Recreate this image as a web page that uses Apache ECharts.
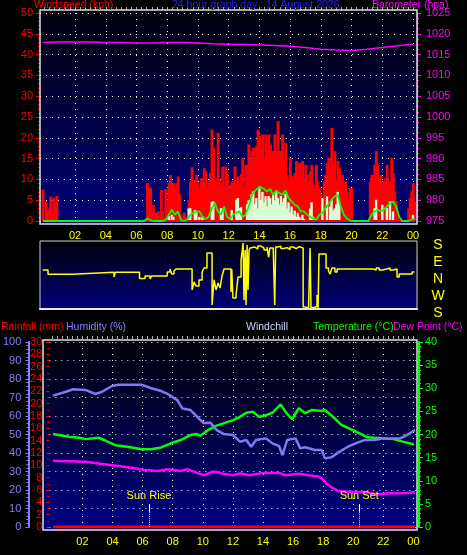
<!DOCTYPE html>
<html><head><meta charset="utf-8">
<script src="https://cdn.jsdelivr.net/npm/echarts@6/dist/echarts.min.js"></script>
<style>html,body{margin:0;padding:0;background:#000;}#c{width:467px;height:555px;}</style>
</head><body><div id="c"></div><script>
// ---------- DATA ----------
var hourTicks = [2,4,6,8,10,12,14,16,18,20,22,24];
var tickLabels = ['02','04','06','08','10','12','14','16','18','20','22','00'];

// wind samples every 6 minutes starting at -0.1 h
var windStart = -0.1, windStep = 0.1;
var gust = [
7.5,0.5,4.7,2.3,3.0,5.9,1.9,5.5,4.3,6.0,
0,0,0,0,0,0,0,0,0,0, 0,0,0,0,0,0,0,0,0,0, 0,0,0,0,0,0,0,0,0,0,
0,0,0,0,0,0,0,0,0,0, 0,0,0,0,0,0,0,0,0,0, 0,0,0,0,0,0,0,0,
9.1,8.0,8.0,3.0,3.9,1.9,1.9,2.3,0.5,7.5,2.3,1.0,
7.7,5.0,9.1,11.0,9.1,9.1,7.9,9.1,10.7,6.5,
1.5,0.8,2.0,1.0,0.5,5.0,9.5,12.9,9.1,9.9,
11.1,9.1,7.7,10.3,9.1,12.7,12.0,8.5,9.5,11.5,
22.0,17.6,8.5,10.3,21.2,9.9,8.3,13.1,8.5,13.1,
11.3,5.5,8.7,9.5,9.5,13.1,9.1,10.7,9.1,11.3,
15.2,7.9,13.5,13.5,18.4,14.4,16.8,17.6,15.0,18.0,
22.0,20.4,17.2,20.8,15.2,20.8,16.8,20.8,18.4,16.8,
16.8,20.8,16.8,24.0,16.8,16.8,20.8,14.4,18.8,11.1,
9.9,15.2,10.7,10.7,11.5,14.4,9.9,14.0,11.1,14.4,
9.5,13.5,11.1,9.5,11.9,13.5,8.7,8.7,13.5,9.5,
7.9,6.3,3.9,9.5,11.1,14.0,15.2,15.2,22.4,13.5,
16.8,9.5,14.4,12.7,9.5,11.1,8.7,9.5,7.1,4.7,
7.9,7.9,0,0,0,0,0,0,0,0,
0,0,0,9.5,11.1,11.1,13.5,16.8,13.5,9.5,
11.1,8.7,9.5,10.3,13.5,9.5,9.5,15.2,11.5,7.1,
4.7,1.5,0,0,0,0,0,0,3.0,5.5,
7.1,9.1,4.7];
var speed = [
0,0,0,0,0,0,0,0,0,0,
0,0,0,0,0,0,0,0,0,0, 0,0,0,0,0,0,0,0,0,0, 0,0,0,0,0,0,0,0,0,0,
0,0,0,0,0,0,0,0,0,0, 0,0,0,0,0,0,0,0,0,0, 0,0,0,0,0,0,0,0,0,0,
0,0,0,0,0,0,0,0,0,0,
0,0,1.2,0,1.5,1.0,0,0,0,0,
0,0,0,0,0,3.0,3.1,0,0,2.6,
2.3,0,1.0,0,1.0,0,0,0,0,0,
4.6,4.7,0,0,0,0,3.1,2.6,0,0,
0,0,0,2.6,0,0,5.1,5.5,3.1,3.3,
0,0,0,4.0,5.0,5.1,6.5,7.1,4.0,5.5,
3.0,8.3,5.0,7.0,4.5,6.0,3.5,6.0,5.5,4.0,
6.5,5.0,7.0,5.5,4.0,6.0,4.5,5.5,6.5,3.0,
4.5,2.0,3.5,1.5,2.5,1.0,2.0,1.0,0.5,1.5,
0.5,0,0,0,3.0,4.5,1.0,0,0,0,
0,0,5.5,0,0,5.9,0,3.5,5.0,2.5,
3.0,4.0,7.0,4.0,0,0,0,0,0,0,
0,0,0,0,0,0,0,0,0,0,
0,0,0,0,0,0,3.1,5.1,0,0,
0,3.9,0,0,3.1,0,4.7,0,2.3,0,
0,0,0,0,0,0,0,0,0,0,
0,1.5,0];
// average wind every 12 minutes starting at -0.1 h
var avgStart = -0.1, avgStep = 0.2;
var avgSpeed = [
0,0,0,0,0,0,0,0,0,0, 0,0,0,0,0,0,0,0,0,0, 0,0,0,0,0,0,0,0,0,0, 0,0,0,0,
0.6,0.2,0,0,0,0,
0.2,1.5,2.7,1.5,2.3,0.2,0,0.3,1.5,1.9,
2.3,2.3,1.0,0.5,1.0,3.0,4.3,2.3,1.5,3.5,
1.0,0.5,1.5,2.0,2.3,1.0,1.5,3.5,6.0,7.2,
7.9,8.1,7.7,7.1,7.7,6.3,7.3,6.7,6.3,7.3,
5.5,4.7,3.9,3.5,2.3,2.3,1.5,1.0,0.6,0.3,
1.5,1.9,3.1,4.0,5.1,5.9,6.3,3.5,1.5,0.6,
0.1,0,0,0,0,0,0,1.5,2.3,2.7,
2.3,2.7,3.5,4.2,4.7,3.5,1.0,0,0,0,
0.3,0.6];

var baroTimes = [-0.1,1,2,3,4,5,6,7,8,9,10,11,12,13,14,15,16,17,18,19,20,21,22,23,24];
var baro = [1017.9,1018.0,1018.0,1018.0,1017.9,1017.9,1017.8,1017.8,1017.9,1017.9,1017.8,1017.6,
            1017.5,1017.4,1017.3,1017.2,1017.0,1016.7,1016.3,1016.1,1016.0,1016.3,1016.7,1017.1,1017.5];

// wind direction, signed degrees (N=0, E=90, S=±180, W=-90)
var dirTimes = [-0.1,0.24,1.84,4.54,4.62,6.2,6.56,6.88,7.0,8.0,8.18,8.3,8.44,8.57,9.62,9.75,9.88,10.07,10.27,10.4,
  10.59,10.92,11.05,11.18,11.31,11.44,11.57,11.7,12.15,12.2,12.28,12.48,12.61,12.81,12.94,13.0,13.07,13.13,13.2,13.26,
  13.33,13.39,13.5,13.7,13.9,14.1,14.3,14.5,14.6,14.68,14.9,15.0,15.06,15.2,15.4,15.6,15.8,16.0,16.2,16.4,
  16.6,16.85,17.0,17.2,17.3,17.36,17.6,17.75,17.82,17.88,18.34,18.5,18.6,18.73,18.92,19.06,21.4,21.6,21.8,22.0,
  22.3,22.5,22.7,22.96,23.1,23.95,24.1];
var dirValues = [26,4,14,-11,14,-18,-5,-21,-5,16,32,5,21,32,-79,-37,-58,-26,16,37,
  116,-159,-26,-79,-42,-69,-5,32,-90,32,-122,-106,-11,79,169,-132,132,-159,159,-79,
  132,143,148,138,153,143,132,148,95,143,150,-159,148,153,140,145,135,148,140,150,
  143,-170,-175,-165,143,-172,-165,-106,-175,111,37,21,5,37,16,32,26,37,26,32,
  37,26,32,-11,5,16,16];

var humTimes = [0.04,0.91,1.35,2.22,2.87,3.31,3.96,4.39,5.92,6.58,7.23,7.66,8.31,8.64,9.19,9.52,9.84,10.06,10.5,10.93,
  11.37,12.02,12.46,12.89,13.22,13.54,14.2,14.63,15.07,15.29,15.61,16.16,16.48,16.81,17.46,17.9,18.12,18.56,18.99,19.65,
  20.08,20.73,21.39,22.04,23.13,23.57,24.11];
var humidity = [71,73.1,74.4,74,71.9,73.1,76.2,76.9,76.9,75,73.5,71.9,68.6,64.1,63.2,60.5,57.8,56.2,56.4,52.4,
  50.3,49.7,46.1,47,43.4,47,47.9,45.2,43.8,38.9,47,47.9,42.5,43.1,41.6,41.6,37.1,37.7,40.2,43.4,
  44.9,47,47,47.9,47.9,49.7,52.4];

var tempTimes = [0.04,1.12,1.78,2.22,3.08,3.52,4.18,4.83,5.48,5.92,6.58,7.23,7.88,8.54,9.19,9.62,9.84,10.27,10.82,11.37,
  12.02,12.46,12.89,13.33,13.76,14.2,14.63,15.18,15.5,15.94,16.38,16.81,17.25,17.9,18.12,18.77,19.21,19.86,20.52,20.95,
  21.82,22.69,23.35,24.0];
var temperature = [20.1,19.5,19.3,19.0,19.3,18.7,17.7,17.4,17.1,16.8,16.8,17.2,18.1,18.8,19.9,20.1,19.7,20.8,21.8,22.4,
  23.1,23.8,24.7,24.9,23.8,24.2,24.7,26.5,24.9,23.3,25.7,24.6,25.3,25.1,25.3,23.5,22.1,21.1,20.1,19.4,
  19.2,19.0,18.4,17.9];

var dewTimes = [0.04,2.22,3.31,4.39,5.48,6.14,7.01,7.66,8.54,8.97,9.62,10.06,10.71,11.37,12.02,12.46,13.11,13.98,15.07,15.5,
  16.38,17.03,17.69,18.01,18.23,18.56,18.99,19.65,20.73,21.61,22.48,23.35,24.11];
var dewPoint = [14.3,14.1,13.6,13.2,12.7,12.3,12.1,12.5,12.1,12.5,11.7,11.2,12.0,11.5,11.2,11.6,11.2,11.7,11.7,11.2,
  11.5,11.2,10.9,10.2,9.3,8.6,7.8,7.6,7.5,7.1,7.3,7.3,7.5];

var rainTimes = [0.04, 24.11];
var rainfall = [0, 0];

var sunTimes = [6.42, 20.4];
var sunLabels = ['Sun Rise', 'Sun Set'];

// ---------- BUILD ----------
function pairs(times, vals){ return vals.map(function(v,i){ return [times[i], v]; }); }
function stepped(start, step, vals){ return vals.map(function(v,i){ return [+(start + i*step).toFixed(3), v]; }); }
var minorTicks = [];
for (var m = 0; m <= 24*60; m += 20) minorTicks.push(+(m/60).toFixed(4));
function hourFmt(v){ var k = hourTicks.indexOf(Math.round(v)); return k >= 0 ? tickLabels[k] : ''; }

var F = '"Liberation Sans", Arial, sans-serif';
var dotted = {show:true, lineStyle:{color:'#ffffff', width:1, type:[1,5]}};
var TOP = {xmin:-0.28, xmax:24.26}, BOT = {xmin:-0.2, xmax:24.24};

function grad(c0, c1){ return {type:'linear', x:0, y:0, x2:0, y2:1, colorStops:[{offset:0,color:c0},{offset:1,color:c1}]}; }
function txt(x, y, s, c){ return {type:'text', z:60, x:x, y:y, style:{text:s, fill:c, font:'10.5px '+F, textVerticalAlign:'middle'}}; }

var sunLines = [];
sunTimes.forEach(function(t, k){
  sunLines.push([
    {coord:[t, 12.4], lineStyle:{color:'#ffffff', width:1, type:'solid'},
     label:{show:true, position:'start', formatter:sunLabels[k], color:'#ffff00', fontSize:11, fontFamily:F, distance:3}},
    {coord:[t, 8.2]}
  ]);
  sunLines.push([
    {coord:[t, 8.2], lineStyle:{color:'#ffff00', width:1, type:[1,1]}, label:{show:false}},
    {coord:[t, 0]}
  ]);
});

var chart = echarts.init(document.getElementById('c'), null, {renderer:'canvas'});
chart.setOption({
  backgroundColor:'#000000',
  animation:false,
  graphic:[
    {type:'rect', z:-10, shape:{x:40,y:10,width:377,height:214}, style:{fill:grad('#00000a','#00007c')}},
    {type:'rect', z:-10, shape:{x:40,y:241,width:377,height:68}, style:{fill:grad('#00000e','#000078')}},
    {type:'rect', z:-10, shape:{x:43,y:340,width:374,height:190}, style:{fill:grad('#000008','#000082')}},
    {type:'rect', z:50, shape:{x:40,y:10,width:377,height:214}, style:{fill:null, stroke:'#e0e0e0', lineWidth:1.5}},
    {type:'rect', z:50, shape:{x:40,y:241,width:377,height:68}, style:{fill:null, stroke:'#d0d0d0', lineWidth:1}},
    {type:'rect', z:50, shape:{x:43,y:340,width:374,height:190}, style:{fill:null, stroke:'#e0e0e0', lineWidth:1.5}},
    txt(34, 5.5, 'Windspeed (kph)', '#ff0000'),
    txt(172, 5.5, '24 hour graph day : 14 August 2026', '#2020ff'),
    txt(372, 5.5, 'Barometer (hpa)', '#ff00ff'),
    txt(1, 327, 'Rainfall (mm)', '#ff0000'),
    txt(66, 327, 'Humidity (%)', '#8080ff'),
    txt(246, 327, 'Windchill', '#c8d4ff'),
    txt(313, 327, 'Temperature (°C)', '#00ff00'),
    txt(393, 327, 'Dew Point (°C)', '#ff00ff')
  ],
  grid:[
    {left:40, width:377, top:13, height:208},
    {left:40, width:377, top:241, height:68},
    {left:43, width:374, top:342, height:185}
  ],
  xAxis:[
    {type:'value', gridIndex:0, min:TOP.xmin, max:TOP.xmax, offset:3,
     axisLine:{show:false, onZero:false}, axisTick:{show:false, customValues:hourTicks},
     axisLabel:{customValues:hourTicks, formatter:hourFmt, color:'#ffff00', fontSize:11, fontFamily:F, margin:6},
     splitLine:dotted},
    {type:'value', gridIndex:0, min:TOP.xmin, max:TOP.xmax, offset:3,
     axisLine:{show:false, onZero:false}, axisTick:{show:true, customValues:minorTicks, length:3, lineStyle:{color:'#b0b0b0'}},
     axisLabel:{show:false}, splitLine:{show:false}},
    {type:'value', gridIndex:1, min:TOP.xmin, max:TOP.xmax,
     axisLine:{show:true, onZero:false, lineStyle:{color:'#ffffff', width:2}}, axisTick:{show:false}, axisLabel:{show:false}, splitLine:{show:false}},
    {type:'value', gridIndex:2, min:BOT.xmin, max:BOT.xmax, offset:3,
     axisLine:{show:false, onZero:false}, axisTick:{show:false, customValues:hourTicks},
     axisLabel:{customValues:hourTicks, formatter:hourFmt, color:'#ffff00', fontSize:11, fontFamily:F, margin:6},
     splitLine:dotted},
    {type:'value', gridIndex:2, min:BOT.xmin, max:BOT.xmax, offset:3,
     axisLine:{show:false, onZero:false}, axisTick:{show:true, customValues:minorTicks, length:3, lineStyle:{color:'#b0b0b0'}},
     axisLabel:{show:false}, splitLine:{show:false}}
  ],
  yAxis:[
    {type:'value', gridIndex:0, position:'left', min:0, max:50, interval:5,
     axisLine:{show:false, onZero:false}, axisTick:{show:true, length:4, lineStyle:{color:'#ff0000'}},
     minorTick:{show:true, splitNumber:5, length:2, lineStyle:{color:'#ff0000'}},
     axisLabel:{color:'#ff0000', fontSize:11, fontFamily:F, margin:7}, splitLine:dotted},
    {type:'value', gridIndex:0, position:'right', min:975, max:1025, interval:5,
     axisLine:{show:true, onZero:false, lineStyle:{color:'#ff00ff', width:1}}, axisTick:{show:true, length:4, lineStyle:{color:'#ff00ff'}},
     minorTick:{show:true, splitNumber:4, length:2, lineStyle:{color:'#ff00ff'}},
     axisLabel:{color:'#ff00ff', fontSize:11, fontFamily:F, margin:9, formatter:function(v){ return String(v); }}, splitLine:{show:false}},
    {type:'value', gridIndex:1, position:'right', min:-180, max:180, interval:90,
     axisLine:{show:false, onZero:false}, axisTick:{show:false}, splitLine:{show:false},
     axisLabel:{color:'#ffff00', fontSize:14, fontFamily:F, margin:21, align:'center', verticalAlign:'top', lineHeight:8,
       formatter:function(v){ return ({'180':'S','90':'E','0':'N','-90':'W','-180':'S'})[String(v)]; }}},
    {type:'value', gridIndex:2, position:'left', offset:21, min:0, max:100, interval:10,
     axisLine:{show:true, onZero:false, lineStyle:{color:'#8080ff', width:2}}, axisTick:{show:true, length:3, lineStyle:{color:'#8080ff'}},
     minorTick:{show:true, splitNumber:5, length:2, lineStyle:{color:'#8080ff'}},
     axisLabel:{color:'#8080ff', fontSize:11, fontFamily:F, margin:7}, splitLine:dotted},
    {type:'value', gridIndex:2, position:'left', offset:0, min:0, max:30, interval:2,
     axisLine:{show:false, onZero:false}, axisTick:{show:true, length:3, lineStyle:{color:'#ff0000'}},
     minorTick:{show:true, splitNumber:2, length:2, lineStyle:{color:'#ff0000'}},
     axisLabel:{color:'#ff0000', fontSize:11, fontFamily:F, margin:7}, splitLine:{show:false}},
    {type:'value', gridIndex:2, position:'right', offset:2, min:0, max:40, interval:5,
     axisLine:{show:true, onZero:false, lineStyle:{color:'#00ff00', width:2}}, axisTick:{show:true, length:4, lineStyle:{color:'#00ff00'}},
     minorTick:{show:true, splitNumber:5, length:2, lineStyle:{color:'#00ff00'}},
     axisLabel:{color:'#00ff00', fontSize:11, fontFamily:F, margin:6}, splitLine:{show:false}}
  ],
  series:[
    {name:'Gust', type:'bar', xAxisIndex:0, yAxisIndex:0, barWidth:2.9, barGap:'-100%', z:3,
     itemStyle:{color:'#ff0000'}, data:stepped(windStart, windStep, gust),
     markLine:{silent:true, symbol:'none', label:{show:false}, lineStyle:{color:'#ff0000', width:2, type:'solid'},
       data:[[{coord:[windStart,0]},{coord:[windStart + (gust.length-1)*windStep,0]}]]}},
    {name:'Speed', type:'bar', xAxisIndex:0, yAxisIndex:0, barWidth:2.4, barGap:'-100%', z:4,
     itemStyle:{color:'#d8ffd8'}, data:stepped(windStart, windStep, speed)},
    {name:'Average', type:'line', xAxisIndex:0, yAxisIndex:0, z:5, showSymbol:false,
     lineStyle:{color:'#00ff00', width:1.8}, data:stepped(avgStart, avgStep, avgSpeed)},
    {name:'Barometer', type:'line', xAxisIndex:0, yAxisIndex:1, z:5, showSymbol:false,
     lineStyle:{color:'#ff00ff', width:1.5}, data:pairs(baroTimes, baro)},
    {name:'Direction', type:'line', xAxisIndex:2, yAxisIndex:2, step:'end', showSymbol:false,
     lineStyle:{color:'#ffff00', width:1.5}, data:pairs(dirTimes, dirValues)},
    {name:'Rainfall', type:'line', xAxisIndex:3, yAxisIndex:4, showSymbol:false, z:3,
     lineStyle:{color:'#ff0000', width:3}, data:pairs(rainTimes, rainfall)},
    {name:'Dew Point', type:'line', xAxisIndex:3, yAxisIndex:5, showSymbol:false,
     lineStyle:{color:'#ff00ff', width:2.5}, data:pairs(dewTimes, dewPoint)},
    {name:'Temperature', type:'line', xAxisIndex:3, yAxisIndex:5, showSymbol:false,
     lineStyle:{color:'#00ff00', width:2.5}, data:pairs(tempTimes, temperature)},
    {name:'Humidity', type:'line', xAxisIndex:3, yAxisIndex:3, showSymbol:false,
     lineStyle:{color:'#7c7cf0', width:2.5}, data:pairs(humTimes, humidity),
     markLine:{silent:true, symbol:'none', data:sunLines}}
  ]
});
</script></body></html>
